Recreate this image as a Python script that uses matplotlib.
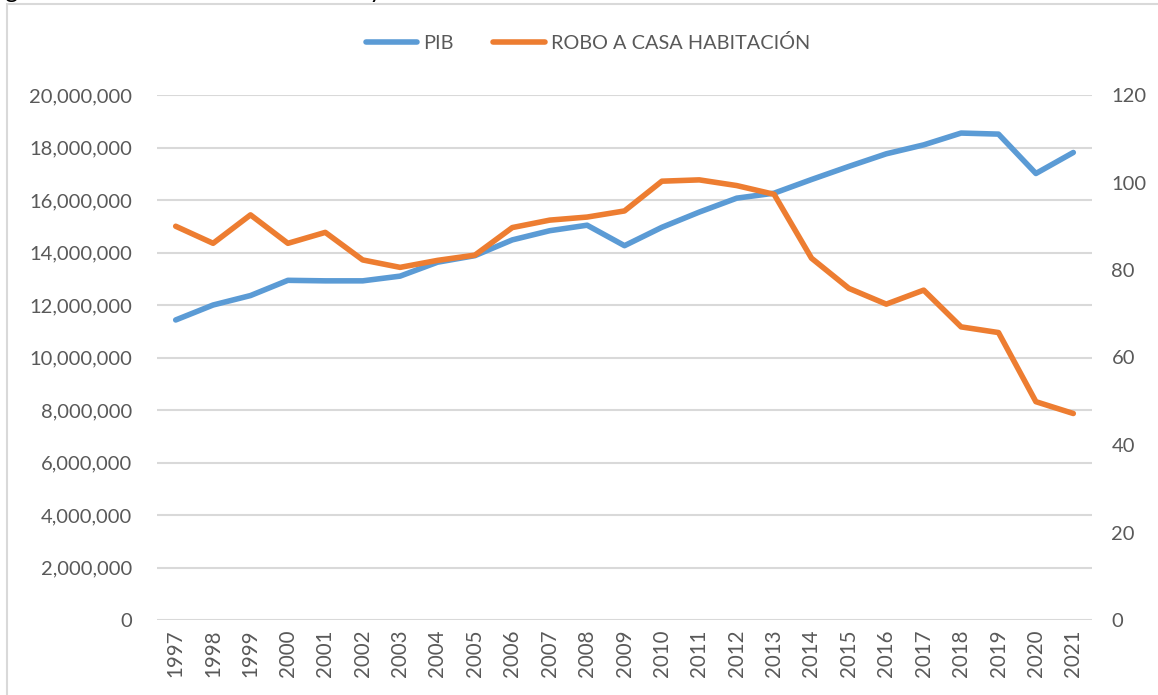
import numpy as np
import matplotlib.pyplot as plt
from matplotlib.patches import Rectangle
from matplotlib.ticker import FuncFormatter, MultipleLocator

plt.rcParams['font.family'] = ['Lato', 'DejaVu Sans']

years = [str(y) for y in range(1997, 2022)]
pib = [11.43e6, 12.00e6, 12.36e6, 12.94e6, 12.92e6, 12.92e6, 13.10e6, 13.63e6,
       13.88e6, 14.48e6, 14.83e6, 15.04e6, 14.26e6, 14.96e6, 15.54e6, 16.07e6,
       16.26e6, 16.78e6, 17.28e6, 17.76e6, 18.10e6, 18.55e6, 18.51e6, 17.01e6,
       17.81e6]
robo = [90.0, 86.1, 92.6, 86.1, 88.6, 82.3, 80.6, 82.2, 83.4, 89.7, 91.4, 92.1,
        93.5, 100.3, 100.6, 99.3, 97.3, 82.7, 75.8, 72.2, 75.4, 67.0, 65.7, 49.9,
        47.2]

BLUE = "#5B9BD5"
ORANGE = "#ED7D31"
GRID = "#D9D9D9"
TXT = "#595959"

W, H = 1158, 695
fig = plt.figure(figsize=(W / 100, H / 100), dpi=100)

# chart frame (only left and top edges fall inside the image)
fig.patches.append(Rectangle((7 / W, -0.05), 1.2, 1 - 4 / H + 0.05,
                             transform=fig.transFigure, facecolor="none",
                             edgecolor=GRID, lw=1.5, zorder=0))

# caption above the chart, mostly outside the image
fig.text(-14 / W, 1 + 2 / H, "Figura 3. Evolución del PIB nacional y robo a casa habitación",
         ha="left", va="baseline", fontsize=17.4, color="black")

ax = fig.add_axes([157 / W, 1 - 620 / H, (1092 - 157) / W, (620 - 95) / H])
ax.patch.set_alpha(0)
ax2 = ax.twinx()

x = np.arange(len(years))
ax.plot(x, pib, color=BLUE, lw=4.0, solid_capstyle="round", solid_joinstyle="round",
        label="PIB", zorder=3)
ax2.plot(x, robo, color=ORANGE, lw=4.0, solid_capstyle="round", solid_joinstyle="round",
         label="ROBO A CASA HABITACIÓN", zorder=3)

ax.set_xlim(-0.5, len(years) - 0.5)
ax.set_ylim(0, 20e6)
ax2.set_ylim(0, 120)
ax.yaxis.set_major_locator(MultipleLocator(2e6))
ax2.yaxis.set_major_locator(MultipleLocator(20))
ax.yaxis.set_major_formatter(FuncFormatter(lambda v, p: f"{v:,.0f}"))

ax.set_xticks(x)
ax.set_xticklabels(years, rotation=90, fontsize=14.8, color=TXT)
ax.tick_params(axis="x", length=0, pad=7)
ax.tick_params(axis="y", length=0, pad=18, labelsize=14.5, labelcolor=TXT)
ax2.tick_params(axis="y", length=0, pad=14, labelsize=14.5, labelcolor=TXT)

ax.grid(axis="y", color=GRID, lw=1.5)
ax.set_axisbelow(True)
for a in (ax, ax2):
    for sp in a.spines.values():
        sp.set_visible(False)

h1, l1 = ax.get_legend_handles_labels()
h2, l2 = ax2.get_legend_handles_labels()
fig.legend(h1 + h2, l1 + l2, loc="center", bbox_to_anchor=(588 / W, 1 - 43 / H),
           ncol=2, frameon=False, fontsize=14.3, labelcolor=TXT,
           handlelength=2.6, handletextpad=0.3, columnspacing=2.0)

fig.savefig("out.png", dpi=100, facecolor="white")
